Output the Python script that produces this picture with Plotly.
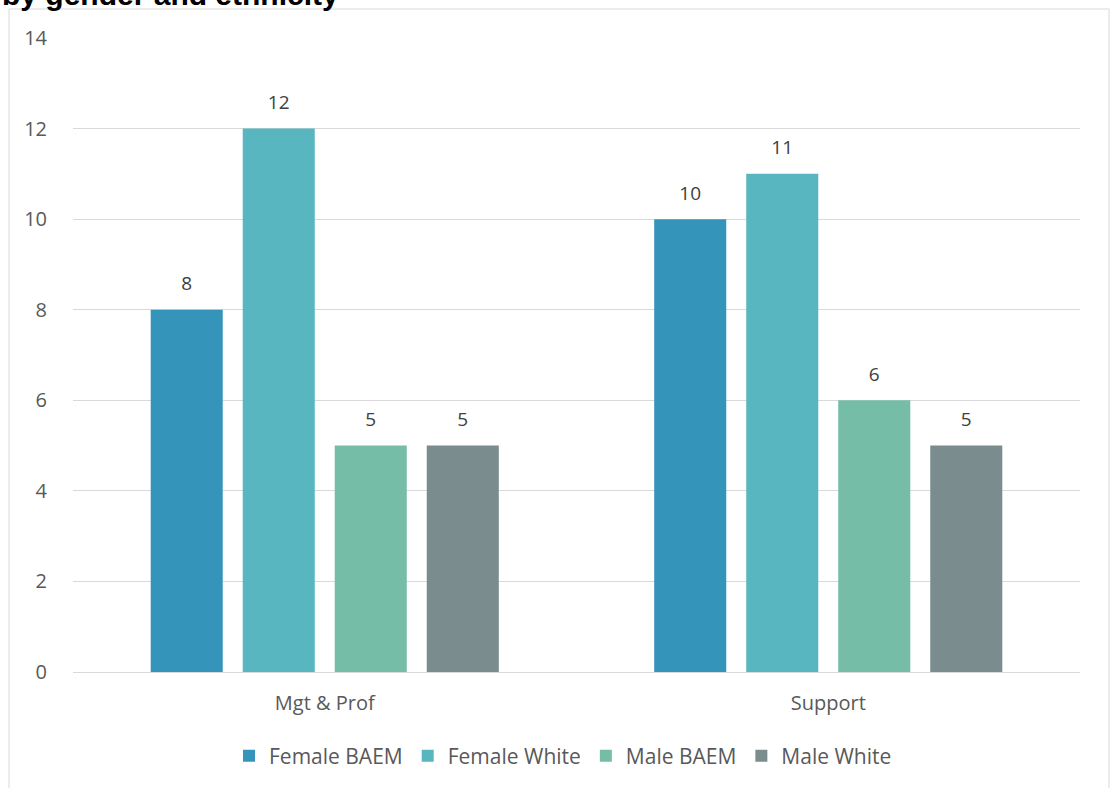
import plotly.graph_objects as go

categories = ["Mgt & Prof", "Support"]
series_names = ["Female BAEM", "Female White", "Male BAEM", "Male White"]
female_baem = [8, 10]
female_white = [12, 11]
male_baem = [5, 6]
male_white = [5, 5]
series_values = [female_baem, female_white, male_baem, male_white]
colors = ["#3494BA", "#58B6C0", "#75BDA7", "#7A8C8E"]
y_ticks = [0, 2, 4, 6, 8, 10, 12, 14]

W, H = 1112, 788
L, R, T, B = 73, 32, 38, 116
pw, ph = W - L - R, H - T - B
GAP = 0.269


def px_x(p):
    return (p - L) / pw


def px_y(p):
    return (H - B - p) / ph


fig = go.Figure()
for name, vals, col in zip(series_names, series_values, colors):
    fig.add_trace(go.Bar(
        x=categories, y=vals, name=name,
        marker=dict(color=col, line=dict(width=0)),
    ))

# value labels, grouped side by side like the bars
for name, vals in zip(series_names, series_values):
    fig.add_trace(go.Scatter(
        x=categories, y=vals, mode="markers+text", showlegend=False,
        text=[str(v) for v in vals], textposition="top center",
        marker=dict(size=22, color="rgba(0,0,0,0)"),
        textfont=dict(family="Open Sans", size=19, color="#404040"),
        cliponaxis=False, hoverinfo="skip",
    ))

fig.update_layout(
    width=W, height=H,
    margin=dict(l=L, r=R, t=T, b=B, pad=0),
    paper_bgcolor="white", plot_bgcolor="white",
    barmode="group", bargap=GAP, bargroupgap=0.217,
    scattermode="group", scattergap=GAP,
    font=dict(family="Open Sans", color="#595959"),
    xaxis=dict(
        showline=False, showgrid=False, ticks="",
        tickfont=dict(size=20, color="#595959"), ticklabelstandoff=17,
    ),
    yaxis=dict(
        range=[0, 14], tickvals=y_ticks, showline=False,
        showgrid=True, gridcolor="#D9D9D9", gridwidth=1,
        zeroline=True, zerolinecolor="#D9D9D9", zerolinewidth=1,
        tickfont=dict(size=20, color="#595959"), ticklabelstandoff=25,
    ),
    legend=dict(
        orientation="h", xanchor="center", x=px_x(563),
        yanchor="middle", y=px_y(756),
        font=dict(size=21, color="#595959"),
        itemwidth=30, tracegroupgap=0,
    ),
    showlegend=True,
)

# chart frame
fig.add_shape(
    type="rect", xref="paper", yref="paper",
    x0=px_x(9), x1=px_x(1109), y0=px_y(820), y1=px_y(9),
    line=dict(color="#D9D9D9", width=1), fillcolor="rgba(0,0,0,0)",
    layer="below",
)

fig.add_annotation(
    text="<b>by gender and ethnicity</b>", xref="paper", yref="paper",
    x=px_x(0), y=px_y(13), xanchor="left", yanchor="bottom",
    showarrow=False,
    font=dict(family="Liberation Sans", size=30, color="#000000"),
)

fig.write_html("out.html")
